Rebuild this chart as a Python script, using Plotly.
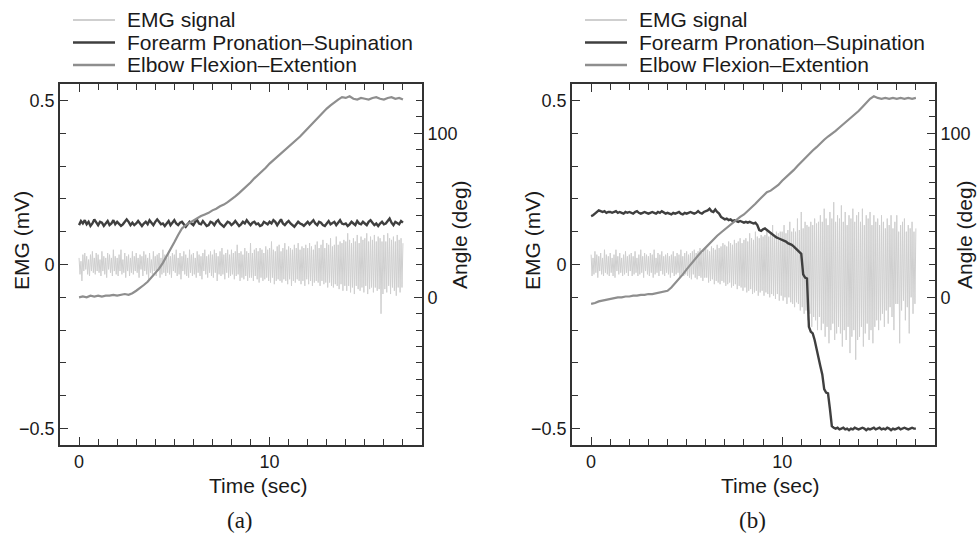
import numpy as np
import plotly.graph_objects as go

# ---------------- data ----------------
t_emg = np.round(np.arange(0, 17.0001, 0.05), 2)  # EMG sample times (s)
t_fore = np.round(np.arange(0, 17.0001, 0.1), 2)  # forearm angle sample times (s)
t_elb = np.round(np.arange(0, 17.0001, 0.2), 2)   # elbow angle sample times (s)

emg_a = [
    0.02, -0.03, 0.01, -0.05, 0.03, -0.02, 0.035, -0.015, 0.025, -0.03, 0.015, -0.035, 0.03, -0.02, 0.04, -0.025, 0.02, -0.03, 0.035, -0.02,
    0.03, -0.025, 0.015, -0.035, 0.04, -0.02, 0.025, -0.03, 0.02, -0.04, 0.035, -0.015, 0.03, -0.025, 0.02, -0.035, 0.045, -0.02, 0.025, -0.03,
    0.02, -0.035, 0.03, -0.02, 0.045, -0.03, 0.015, -0.025, 0.035, -0.04, 0.025, -0.02, 0.03, -0.035, 0.02, -0.025, 0.04, -0.03, 0.025, -0.02,
    0.035, -0.025, 0.02, -0.04, 0.03, -0.015, 0.025, -0.035, 0.04, -0.02, 0.03, -0.03, 0.02, -0.045, 0.035, -0.025, 0.015, -0.03, 0.04, -0.02,
    0.025, -0.035, 0.03, -0.02, 0.035, -0.04, 0.02, -0.03, 0.045, -0.025, 0.03, -0.035, 0.02, -0.025, 0.04, -0.03, 0.025, -0.04, 0.035, -0.02,
    0.03, -0.025, 0.045, -0.035, 0.02, -0.03, 0.035, -0.045, 0.025, -0.02, 0.04, -0.03, 0.03, -0.035, 0.02, -0.04, 0.045, -0.025, 0.03, -0.035,
    0.035, -0.03, 0.02, -0.04, 0.04, -0.025, 0.03, -0.035, 0.025, -0.045, 0.035, -0.02, 0.045, -0.03, 0.025, -0.04, 0.03, -0.025, 0.04, -0.035,
    0.03, -0.04, 0.045, -0.025, 0.035, -0.05, 0.025, -0.03, 0.04, -0.035, 0.05, -0.03, 0.03, -0.045, 0.035, -0.025, 0.045, -0.04, 0.03, -0.035,
    0.045, -0.03, 0.035, -0.045, 0.04, -0.035, 0.06, -0.03, 0.035, -0.05, 0.04, -0.04, 0.03, -0.045, 0.05, -0.035, 0.04, -0.05, 0.035, -0.04,
    0.065, -0.04, 0.035, -0.05, 0.045, -0.035, 0.05, -0.045, 0.04, -0.055, 0.05, -0.04, 0.045, -0.05, 0.035, -0.045, 0.055, -0.04, 0.045, -0.05,
    0.05, -0.055, 0.07, -0.04, 0.045, -0.06, 0.04, -0.05, 0.055, -0.045, 0.06, -0.05, 0.04, -0.055, 0.05, -0.045, 0.065, -0.05, 0.045, -0.06,
    0.055, -0.045, 0.05, -0.065, 0.045, -0.05, 0.06, -0.055, 0.05, -0.045, 0.065, -0.05, 0.045, -0.06, 0.055, -0.05, 0.05, -0.065, 0.06, -0.045,
    0.05, -0.06, 0.065, -0.05, 0.055, -0.065, 0.045, -0.055, 0.06, -0.05, 0.07, -0.055, 0.05, -0.065, 0.06, -0.05, 0.075, -0.06, 0.05, -0.055,
    0.065, -0.07, 0.06, -0.055, 0.08, -0.065, 0.055, -0.07, 0.06, -0.06, 0.085, -0.065, 0.06, -0.075, 0.07, -0.06, 0.065, -0.08, 0.075, -0.065,
    0.07, -0.08, 0.095, -0.065, 0.075, -0.085, 0.065, -0.07, 0.08, -0.09, 0.07, -0.065, 0.09, -0.075, 0.065, -0.08, 0.085, -0.07, 0.075, -0.085,
    0.08, -0.065, 0.095, -0.09, 0.07, -0.075, 0.085, -0.07, 0.075, -0.085, 0.09, -0.07, 0.07, -0.08, 0.085, -0.075, 0.08, -0.15, 0.07, -0.09,
    0.09, -0.075, 0.07, -0.085, 0.095, -0.065, 0.08, -0.09, 0.075, -0.07, 0.085, -0.08, 0.07, -0.095, 0.09, -0.07, 0.075, -0.085, 0.08, -0.07,
    0.065,
]

forearm_a = [
    44, 46.5, 45, 47, 44.5, 46, 43.5, 45, 47.5, 45.5,
    44, 46, 45.5, 43.5, 45, 46.5, 44, 45, 47, 44.5,
    46, 45, 43.5, 44.5, 46, 47.5, 46, 44, 45.5, 44,
    45, 46.5, 45, 43.5, 45, 46, 44.5, 47, 45.5, 44,
    46, 47.5, 46, 44.5, 45, 43.5, 45, 46.5, 44, 45.5,
    47, 45, 44, 45.5, 46, 44.5, 43, 44.5, 46, 45,
    44, 46, 47, 45, 44.5, 46.5, 45, 43.5, 44, 46,
    45.5, 44, 46, 47, 45, 44, 43, 44.5, 46, 45.5,
    44, 45, 46.5, 45, 43.5, 44.5, 46, 45, 47, 45.5,
    44, 45.5, 46, 44.5, 45, 43.5, 44, 46, 45, 44.5,
    46, 45, 47, 46, 44, 45.5, 47.5, 45, 44, 45.5,
    46.5, 45, 44, 43, 44.5, 46, 45, 44.5, 43.5, 45,
    46, 44.5, 45.5, 47, 45, 44, 46, 45.5, 44, 43.5,
    45, 46.5, 44.5, 45, 46, 44, 45.5, 47, 45, 44.5,
    45, 43.5, 44.5, 46, 45, 44, 46.5, 45, 44.5, 46,
    45, 44, 46, 47, 45.5, 44, 45, 43.5, 45, 46,
    44.5, 45, 46.5, 48, 45.5, 44, 46, 45, 44.5, 46.5,
    45.5,
]

elbow_a = [
    0, 0.5, 0, 1, 0.5, 1, 0.5, 1, 1, 1.5,
    1, 1.5, 2, 1.5, 2.5, 4, 5.5, 7.5, 9.5, 12,
    14.5, 17.5, 21, 25, 29, 33.5, 38, 42, 44, 45.5,
    47, 48, 49.5, 50.5, 51.5, 53, 54, 55.5, 56.5, 58,
    59.5, 61.5, 63.5, 65.5, 68, 70, 72.5, 74.5, 77, 79,
    81.5, 83.5, 85.5, 87.5, 89.5, 91.5, 93.5, 95.5, 98, 100.5,
    103, 105, 107.5, 110, 112.5, 115, 117, 119, 120.5, 122,
    121.5, 122.5, 121, 120.5, 121.5, 121, 120.5, 121.5, 122, 121,
    120.5, 121.5, 122, 121, 121.5, 120.5,
]

emg_b = [
    0.03, -0.035, 0.02, -0.03, 0.04, -0.025, 0.03, -0.04, 0.025, -0.02, 0.035, -0.03, 0.02, -0.035, 0.045, -0.025, 0.03, -0.03, 0.025, -0.035,
    0.035, -0.025, 0.02, -0.035, 0.03, -0.04, 0.045, -0.02, 0.025, -0.03, 0.035, -0.025, 0.02, -0.035, 0.03, -0.03, 0.04, -0.025, 0.025, -0.035,
    0.03, -0.02, 0.035, -0.035, 0.025, -0.03, 0.04, -0.025, 0.02, -0.035, 0.03, -0.03, 0.045, -0.025, 0.025, -0.04, 0.035, -0.02, 0.03, -0.03,
    0.025, -0.035, 0.035, -0.025, 0.03, -0.04, 0.045, -0.03, 0.02, -0.025, 0.035, -0.035, 0.03, -0.02, 0.04, -0.03, 0.025, -0.035, 0.03, -0.025,
    0.035, -0.03, 0.025, -0.04, 0.03, -0.025, 0.04, -0.035, 0.025, -0.03, 0.035, -0.025, 0.03, -0.04, 0.045, -0.03, 0.025, -0.035, 0.035, -0.03,
    0.04, -0.035, 0.03, -0.04, 0.035, -0.045, 0.04, -0.03, 0.045, -0.04, 0.035, -0.045, 0.04, -0.035, 0.05, -0.04, 0.035, -0.05, 0.045, -0.04,
    0.05, -0.04, 0.045, -0.055, 0.04, -0.05, 0.055, -0.045, 0.05, -0.06, 0.045, -0.05, 0.06, -0.055, 0.05, -0.06, 0.055, -0.05, 0.065, -0.055,
    0.06, -0.065, 0.055, -0.06, 0.07, -0.055, 0.065, -0.07, 0.06, -0.065, 0.075, -0.06, 0.065, -0.075, 0.07, -0.065, 0.08, -0.07, 0.065, -0.08,
    0.075, -0.07, 0.08, -0.085, 0.07, -0.08, 0.095, -0.075, 0.08, -0.09, 0.075, -0.085, 0.1, -0.08, 0.085, -0.095, 0.08, -0.085, 0.09, -0.08,
    0.085, -0.095, 0.09, -0.085, 0.11, -0.09, 0.085, -0.1, 0.095, -0.09, 0.12, -0.095, 0.09, -0.105, 0.1, -0.09, 0.095, -0.11, 0.1, -0.095,
    0.1, -0.11, 0.12, -0.1, 0.095, -0.12, 0.105, -0.1, 0.13, -0.115, 0.1, -0.12, 0.11, -0.13, 0.1, -0.115, 0.14, -0.12, 0.105, -0.14,
    0.16, -0.13, 0.11, -0.15, 0.13, -0.14, 0.12, -0.17, 0.115, -0.15, 0.13, -0.19, 0.12, -0.16, 0.14, -0.17, 0.125, -0.2, 0.13, -0.16,
    0.15, -0.2, 0.13, -0.18, 0.17, -0.22, 0.14, -0.19, 0.12, -0.24, 0.16, -0.2, 0.14, -0.18, 0.19, -0.23, 0.13, -0.21, 0.15, -0.19,
    0.14, -0.21, 0.18, -0.25, 0.13, -0.2, 0.16, -0.23, 0.12, -0.19, 0.15, -0.27, 0.14, -0.22, 0.17, -0.2, 0.13, -0.29, 0.15, -0.23,
    0.16, -0.22, 0.13, -0.19, 0.17, -0.25, 0.12, -0.21, 0.15, -0.18, 0.14, -0.23, 0.16, -0.2, 0.12, -0.24, 0.15, -0.19, 0.13, -0.17,
    0.14, -0.2, 0.12, -0.17, 0.15, -0.15, 0.13, -0.19, 0.11, -0.14, 0.14, -0.18, 0.12, -0.13, 0.15, -0.16, 0.11, -0.2, 0.13, -0.12,
    0.15, -0.12, 0.1, -0.24, 0.12, -0.14, 0.13, -0.11, 0.14, -0.17, 0.1, -0.13, 0.12, -0.21, 0.11, -0.1, 0.13, -0.15, 0.1, -0.12,
    0.11,
]

forearm_b = [
    49.5, 50, 51, 52, 53, 52.5, 52, 52.5, 51.5, 52,
    52, 51.5, 52, 52.5, 51.5, 52, 51.5, 51, 52, 51.5,
    52, 51.5, 51, 52, 52.5, 51.5, 51, 51.5, 52, 51.5,
    51, 51.5, 52, 51.5, 51, 52, 51.5, 52.5, 51.5, 51,
    51.5, 51, 50.5, 51.5, 51, 51.5, 52, 51, 50.5, 51.5,
    51, 51.5, 52, 51.5, 51, 51.5, 52.5, 51.5, 51, 52,
    52.5, 53, 54, 52.5, 52, 53.5, 52, 51, 49, 48,
    47.5, 48, 47, 47.5, 46.5, 47, 46.5, 46, 46.5, 46,
    45.5, 46, 45.5, 46, 45.5, 45, 45.5, 44, 41, 40.5,
    41.5, 42, 41, 40, 39, 38.5, 37, 36.5, 36, 35.5,
    35, 34.5, 34, 33, 32.5, 32, 31, 30, 29, 28,
    26.5, 14, 12, 11.5, -18, -21, -22, -26, -32, -36,
    -42, -47, -56, -58, -58.5, -68, -78.5, -79.5, -80, -79.5,
    -80.5, -80, -79.5, -80.5, -80, -81, -80, -80.5, -79.5, -80,
    -80.5, -80, -79.5, -80, -81, -80, -80.5, -80, -79.5, -80.5,
    -80, -79.5, -80.5, -80, -80.5, -79.5, -80, -81, -80, -80.5,
    -80, -79.5, -80.5, -80, -79.5, -80, -80.5, -80, -79.5, -80,
    -80,
]

elbow_b = [
    -4, -3.5, -2.5, -2, -1.5, -1, -0.5, 0, 0, 0.5,
    0.5, 1, 1, 1.5, 1.5, 2, 2, 2.5, 3, 3.5,
    4, 6, 8.5, 11, 14, 17, 20, 23, 25.5, 28,
    30.5, 33, 35, 37.5, 39.5, 41.5, 43.5, 45.5, 47, 49,
    50.5, 52.5, 54.5, 57, 59.5, 62, 64, 65, 66.5, 68.5,
    71, 73, 75, 77.5, 80, 82.5, 84.5, 87, 89.5, 91.5,
    94, 96, 98, 99.5, 101.5, 103.5, 105.5, 107.5, 109.5, 111,
    113.5, 116, 118.5, 121, 122.5, 121.5, 121, 121.5, 121, 121.5,
    121, 121.5, 121, 121.5, 121, 121.5,
]

series_names = ["EMG signal", "Forearm Pronation\u2013Supination", "Elbow Flexion\u2013Extention"]
series_colors = ["#cfcfcf", "#3f3f3f", "#8e8e8e"]
series_widths = [1.0, 2.4, 2.2]
panel_labels = ["(a)", "(b)"]
x_title = "Time (sec)"
y_title = "EMG (mV)"
y2_title = "Angle (deg)"

# ---------------- layout helpers ----------------
W, H = 979, 534
def px(x):
    return x / W
def py(y):
    return 1 - y / H

SANS = "Liberation Sans, Arial, sans-serif"
SERIF = "Liberation Serif, Times New Roman, serif"
AX = "#333333"
TXT = "#1a1a1a"

fig = go.Figure()

panels = [
    dict(emg=emg_a, fore=forearm_a, elb=elbow_a, x0=60, x1=422, xs="x", ys="y", y2s="y2",
         ytx=21, y2tx=459, xtx=258, lab=240),
    dict(emg=emg_b, fore=forearm_b, elb=elbow_b, x0=572, x1=935, xs="x2", ys="y3", y2s="y4",
         ytx=532, y2tx=964, xtx=770, lab=752),
]

for p in panels:
    fig.add_trace(go.Scatter(x=t_emg, y=p["emg"], mode="lines", name=series_names[0],
                             line=dict(color=series_colors[0], width=series_widths[0]),
                             xaxis=p["xs"], yaxis=p["ys"], showlegend=False))
    fig.add_trace(go.Scatter(x=t_fore, y=p["fore"], mode="lines", name=series_names[1],
                             line=dict(color=series_colors[1], width=series_widths[1]),
                             xaxis=p["xs"], yaxis=p["y2s"], showlegend=False))
    fig.add_trace(go.Scatter(x=t_elb, y=p["elb"], mode="lines", name=series_names[2],
                             line=dict(color=series_colors[2], width=series_widths[2]),
                             xaxis=p["xs"], yaxis=p["y2s"], showlegend=False))

top, bottom = 84, 445
tickfont = dict(family=SANS, size=18, color=TXT)

def xax(x0, x1, anchor):
    return dict(domain=[px(x0), px(x1)], anchor=anchor, range=[-1, 18],
                tickmode="linear", tick0=0, dtick=10, ticks="inside", ticklen=8,
                tickwidth=1.3, tickcolor=AX, showline=True, linecolor=AX, linewidth=1.6,
                mirror="ticks", showgrid=False, zeroline=False, tickfont=tickfont,
                minor=dict(tickmode="linear", tick0=0, dtick=1, ticks="inside", ticklen=6,
                           tickwidth=1.3, tickcolor=AX, showgrid=False))

def yax(anchor):
    return dict(domain=[py(bottom), py(top)], anchor=anchor, range=[-0.55, 0.55],
                tickmode="linear", tick0=0, dtick=0.5, ticks="inside", ticklen=8,
                tickwidth=1.3, tickcolor=AX, showline=True, linecolor=AX, linewidth=1.6,
                showgrid=False, zeroline=False, tickfont=tickfont,
                minor=dict(tickmode="linear", tick0=0, dtick=0.1, ticks="inside", ticklen=6,
                           tickwidth=1.3, tickcolor=AX, showgrid=False))

def y2ax(anchor, over):
    return dict(domain=[py(bottom), py(top)], anchor=anchor, overlaying=over, side="right",
                range=[-90, 130], tickmode="linear", tick0=0, dtick=100, ticks="inside",
                ticklen=8, tickwidth=1.3, tickcolor=AX, showline=True, linecolor=AX,
                linewidth=1.6, showgrid=False, zeroline=False, tickfont=tickfont,
                minor=dict(tickmode="linear", tick0=0, dtick=10, ticks="inside", ticklen=6,
                           tickwidth=1.3, tickcolor=AX, showgrid=False))

fig.update_layout(
    width=W, height=H,
    margin=dict(l=0, r=0, t=0, b=0),
    paper_bgcolor="white", plot_bgcolor="white",
    showlegend=False,
    xaxis=xax(60, 422, "y"),
    yaxis=yax("x"),
    yaxis2=y2ax("x", "y"),
    xaxis2=xax(572, 935, "y3"),
    yaxis3=yax("x2"),
    yaxis4=y2ax("x2", "y3"),
)

annotations = []
shapes = []
for i, p in enumerate(panels):
    off = p["x0"] - 60
    # legend (manual, tight spacing like the original)
    for k, yy in enumerate([20, 42.5, 65]):
        shapes.append(dict(type="line", xref="paper", yref="paper",
                           x0=px(73 + off), x1=px(115 + off), y0=py(yy), y1=py(yy),
                           line=dict(color=series_colors[k], width=2.4 if k else 2.0)))
        annotations.append(dict(text=series_names[k], xref="paper", yref="paper",
                                x=px(125 + off), y=py(yy), xanchor="left", yanchor="middle",
                                showarrow=False, font=dict(family=SANS, size=21, color=TXT)))
    # axis titles
    annotations.append(dict(text=y_title, xref="paper", yref="paper", x=px(p["ytx"]), y=py(241),
                            xanchor="center", yanchor="middle", textangle=-90, showarrow=False,
                            font=dict(family=SANS, size=21, color=TXT)))
    annotations.append(dict(text=y2_title, xref="paper", yref="paper", x=px(p["y2tx"]), y=py(235),
                            xanchor="center", yanchor="middle", textangle=-90, showarrow=False,
                            font=dict(family=SANS, size=21, color=TXT)))
    annotations.append(dict(text=x_title, xref="paper", yref="paper", x=px(p["xtx"]), y=py(485),
                            xanchor="center", yanchor="middle", showarrow=False,
                            font=dict(family=SANS, size=21, color=TXT)))
    annotations.append(dict(text=panel_labels[i], xref="paper", yref="paper", x=px(p["lab"]), y=py(520),
                            xanchor="center", yanchor="middle", showarrow=False,
                            font=dict(family=SERIF, size=23, color=TXT)))

fig.update_layout(annotations=annotations, shapes=shapes)

fig.write_html("out.html", config={"displayModeBar": False},
               post_script="document.body.style.margin='0px';document.body.style.overflow='hidden';")
